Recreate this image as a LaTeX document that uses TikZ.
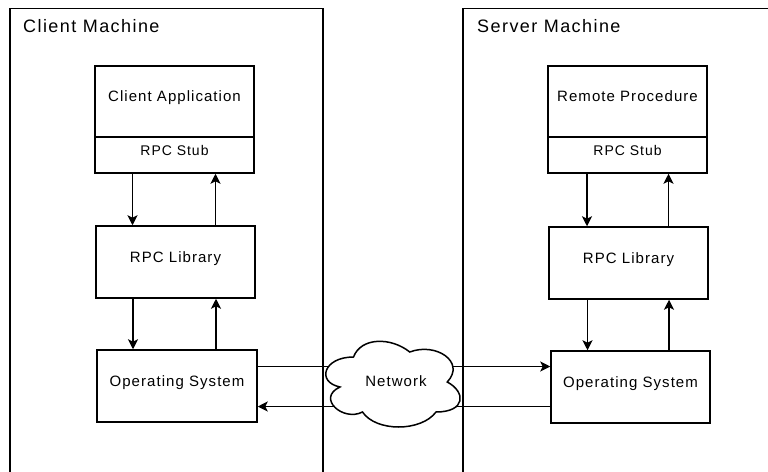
\documentclass[tikz,border=0pt]{standalone}
\usepackage{fontspec}
\setmainfont{Liberation Sans}
\newfontfamily\labfont{Liberation Sans}[LetterSpace=7]
\newfontfamily\titlefont{Liberation Sans}[LetterSpace=8]
\usetikzlibrary{arrows.meta,calc}
\begin{document}
\begin{tikzpicture}[x=1pt,y=-1pt,
  lw/.style={line width=1.5pt},
  box/.style={draw, lw, rectangle, inner sep=0pt, text height=5pt, text depth=5pt,
    font={\labfont\fontsize{15pt}{18pt}\selectfont}},
  stubbox/.style={box, font={\labfont\fontsize{14pt}{17pt}\selectfont}},
  titletext/.style={inner sep=0pt, font={\titlefont\fontsize{18pt}{22pt}\selectfont}},
  labtext/.style={inner sep=0pt, font={\labfont\fontsize{15pt}{18pt}\selectfont}},
  arr/.style={lw, -{Stealth[length=10pt,width=10pt,inset=2.5pt]}},
  frame/.style={lw, line join=miter}]
\useasboundingbox (0,0) rectangle (768,471);
\fill[white] (0,0) rectangle (768,471);

% containers
\draw[frame] (10,475) -- (10,8.5) -- (323,8.5) -- (323,475);
\draw[frame] (463,475) -- (463,8.5) -- (772,8.5);
\node[titletext, anchor=base west] (clientT) at (23,32) {Client Machine};
\node[titletext, anchor=base west] (serverT) at (477,32) {Server Machine};

% client side
\node[box, minimum width=159pt, minimum height=71pt] (appC) at (174.5,101.5) {Client Application};
\node[stubbox, minimum width=159pt, minimum height=36pt] (stubC) at (174.5,155) {RPC Stub};
\node[box, minimum width=159pt, minimum height=72pt] (libC) at (175.5,262) {RPC Library};
\node[box, minimum width=160pt, minimum height=72pt] (osC) at (177,386) {Operating System};

% server side
\node[box, minimum width=159pt, minimum height=71pt] (appS) at (627.5,101.5) {Remote Procedure};
\node[stubbox, minimum width=159pt, minimum height=36pt] (stubS) at (627.5,155) {RPC Stub};
\node[box, minimum width=159pt, minimum height=72pt] (libS) at (628.5,263) {RPC Library};
\node[box, minimum width=159pt, minimum height=72pt] (osS) at (630.5,387) {Operating System};

% vertical arrows client
\draw[arr] ([xshift=-42pt]stubC.south) -- ([xshift=-42pt]stubC.south |- libC.north);
\draw[arr] ([xshift=41pt]stubC.south |- libC.north) -- ([xshift=41pt]stubC.south);
\draw[arr] ([xshift=-42.5pt]libC.south) -- ([xshift=-42.5pt]libC.south |- osC.north);
\draw[arr] ([xshift=40.5pt]libC.south |- osC.north) -- ([xshift=40.5pt]libC.south);

% vertical arrows server
\draw[arr] ([xshift=-40.5pt]stubS.south) -- ([xshift=-40.5pt]stubS.south |- libS.north);
\draw[arr] ([xshift=41pt]stubS.south |- libS.north) -- ([xshift=41pt]stubS.south);
\draw[arr] ([xshift=-41pt]libS.south) -- ([xshift=-41pt]libS.south |- osS.north);
\draw[arr] ([xshift=40.5pt]libS.south |- osS.north) -- ([xshift=40.5pt]libS.south);

% network lines
\draw[arr] ([yshift=19.5pt]osC.east) -- ([yshift=19.5pt]osC.east -| osS.west);
\draw[arr] ([yshift=-20.5pt]osC.east -| osS.west) -- ([yshift=-20.5pt]osC.east);

% cloud
\begin{scope}[shift={(316,332)}, xscale=150, yscale=100]
\draw[lw, fill=white]
  (0.25,0.25) .. controls (0.05,0.25) and (0,0.5) .. (0.16,0.55)
  .. controls (0,0.66) and (0.18,0.9) .. (0.31,0.8)
  .. controls (0.4,1) and (0.7,1) .. (0.8,0.8)
  .. controls (1,0.8) and (1,0.6) .. (0.875,0.5)
  .. controls (1,0.3) and (0.8,0.1) .. (0.625,0.2)
  .. controls (0.5,0.05) and (0.3,0.05) .. (0.25,0.25) -- cycle;
\end{scope}
\node[labtext, anchor=base] (net) at (396,386) {Network};
\end{tikzpicture}
\end{document}
